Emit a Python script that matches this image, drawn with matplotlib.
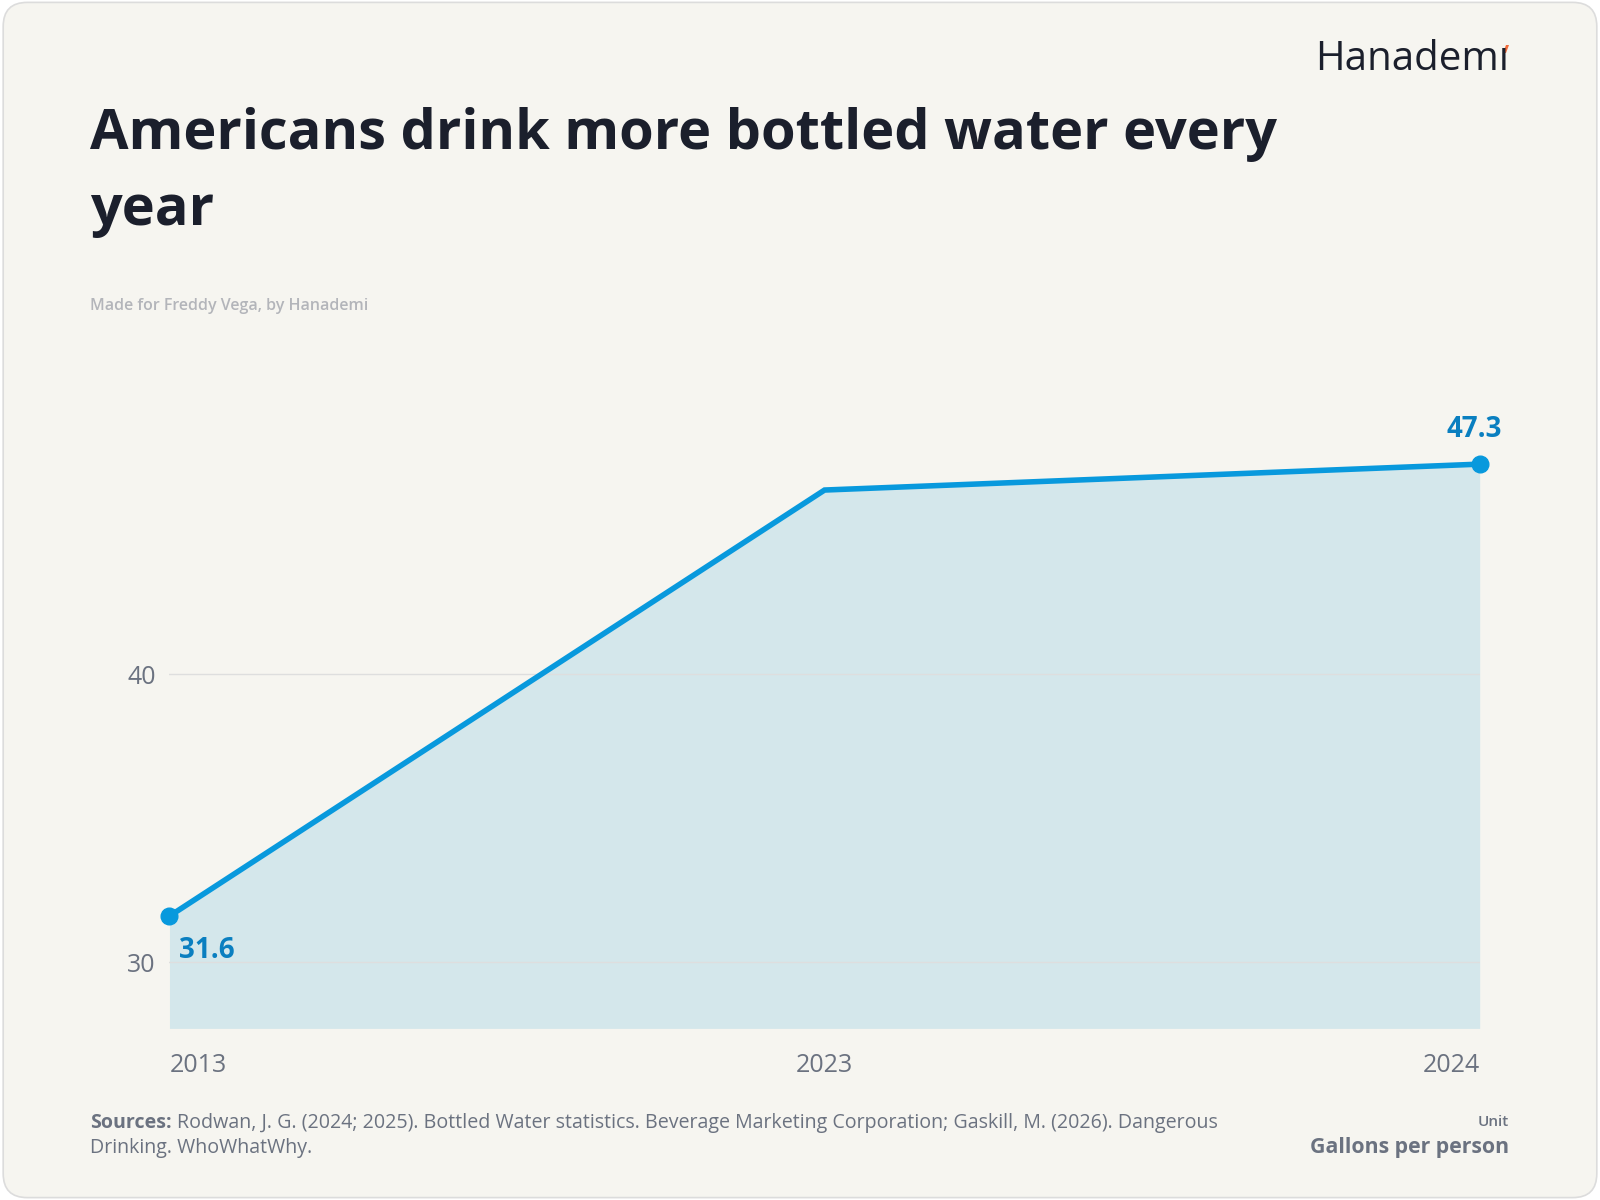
import matplotlib.pyplot as plt
from matplotlib.patches import FancyBboxPatch, Polygon

# --- Data ---
years = ["2013", "2023", "2024"]
gallons = [31.6, 46.4, 47.3]
label_values = {0: "31.6", 2: "47.3"}
y_ticks = [30, 40]

BG = "#f6f5f0"
LINE = "#0899dd"
FILL = "#d4e7eb"
LABEL = "#0a7fc0"
DARK = "#1b1f2c"
GRAY = "#6b7280"

plt.rcParams["font.family"] = ["Open Sans", "DejaVu Sans"]

fig = plt.figure(figsize=(16, 12), dpi=100)
fig.patch.set_facecolor("white")
card = FancyBboxPatch((0.002, 0.002), 0.996, 0.996, boxstyle="round,pad=0,rounding_size=0.015",
                      transform=fig.transFigure, facecolor=BG, edgecolor="#dcdcdc", lw=1.2,
                      mutation_aspect=16 / 12, zorder=-10)
fig.patches.append(card)

ax = fig.add_axes([0.1059, 0.143, 0.8189, 0.535])
ax.set_facecolor("none")
x = list(range(len(years)))
ymin, ymax = 27.7, 50
ax.fill_between(x, gallons, ymin, color=FILL, lw=0, zorder=1)
ax.plot(x, gallons, color=LINE, lw=4, solid_joinstyle="miter", zorder=3)
ax.plot([x[0], x[-1]], [gallons[0], gallons[-1]], "o", color=LINE, ms=12, clip_on=False, zorder=4)
ax.set_xlim(0, len(years) - 1)
ax.set_ylim(ymin, ymax)
ax.set_yticks(y_ticks)
ax.set_yticklabels([str(t) for t in y_ticks], fontsize=18, color=GRAY)
ax.tick_params(axis="y", length=0, pad=10)
ax.grid(axis="y", color="#dedede", lw=1, zorder=2)
ax.set_xticks([])
for s in ax.spines.values():
    s.set_visible(False)

# year labels below plot
for i, yr in enumerate(years):
    ha = "left" if i == 0 else ("right" if i == len(years) - 1 else "center")
    ax.annotate(yr, (i, ymin), xytext=(0, -27), textcoords="offset points",
                ha=ha, va="center", fontsize=18, color=GRAY)

# value labels
ax.annotate(label_values[0], (0, gallons[0]), xytext=(7, -25), textcoords="offset points",
            ha="left", va="center", fontsize=20, fontweight="bold", color=LABEL)
ax.annotate(label_values[2], (2, gallons[2]), xytext=(16, 25), textcoords="offset points",
            ha="right", va="center", fontsize=20, fontweight="bold", color=LABEL)

# titles
fig.text(0.056, 1 - 107 / 1200, "Americans drink more bottled water every\nyear", ha="left", va="top",
         fontsize=40.2, fontweight="bold", color=DARK, linespacing=1.5)
fig.text(0.056, 1 - 306 / 1200, "Made for Freddy Vega, by Hanademi", ha="left", va="center",
         fontsize=11.5, fontweight="semibold", color="#b3b5ba")

# logo
fig.text(1509 / 1600, 1 - 60 / 1200, "Hanademı", ha="right", va="center", fontsize=29, color=DARK)
fig.patches.append(Polygon([(1503 / 1600, 1 - 53 / 1200), (1506 / 1600, 1 - 53 / 1200),
                            (1509 / 1600, 1 - 45 / 1200), (1506 / 1600, 1 - 45 / 1200)],
                           closed=True, transform=fig.transFigure, facecolor="#f26b3a", lw=0))

# footer
src = fig.text(0.056, 1 - 1123 / 1200, "Sources:", ha="left", va="center", fontsize=14.1,
               fontweight="bold", color=GRAY)
fig.add_artist(plt.Annotation(
    "Rodwan, J. G. (2024; 2025). Bottled Water statistics. Beverage Marketing Corporation; Gaskill, M. (2026). Dangerous",
    xy=(1, 0.5), xycoords=src, xytext=(4, 0), textcoords="offset points",
    ha="left", va="center", fontsize=14.1, color=GRAY))
fig.text(0.056, 1 - 1148 / 1200, "Drinking. WhoWhatWhy.", ha="left", va="center", fontsize=14.1, color=GRAY)
fig.text(1509 / 1600, 1 - 1122 / 1200, "Unit", ha="right", va="center", fontsize=11,
         fontweight="semibold", color=GRAY)
fig.text(1509 / 1600, 1 - 1147 / 1200, "Gallons per person", ha="right", va="center", fontsize=15.3,
         fontweight="bold", color=GRAY)

fig.savefig("out.png", dpi=100, facecolor=fig.get_facecolor())
